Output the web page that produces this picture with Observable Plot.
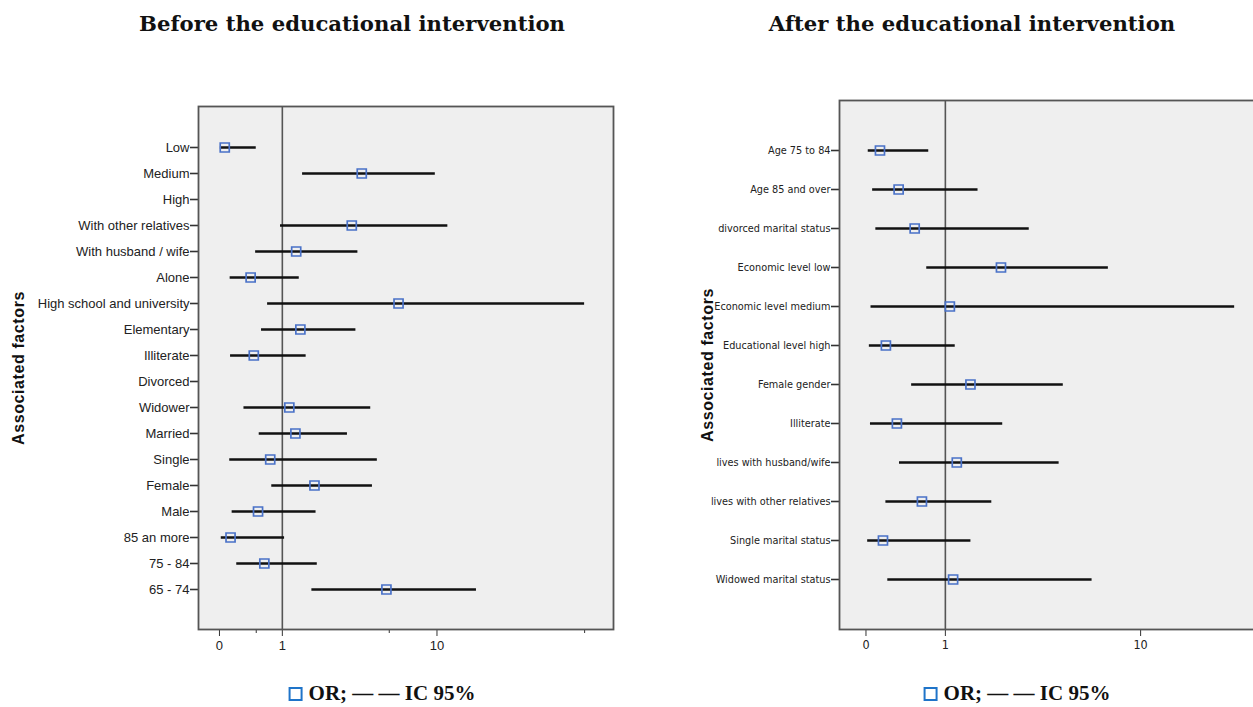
<!DOCTYPE html>
<html><head><meta charset="utf-8">
<script src="https://cdn.jsdelivr.net/npm/d3@7"></script>
<script src="https://cdn.jsdelivr.net/npm/@observablehq/plot@0.6"></script>
<style>
html,body{margin:0;padding:0;background:#fff;overflow:hidden;width:1253px;height:707px;}
#wrap{position:relative;width:1253px;height:707px;overflow:hidden;}
.panel{position:absolute;top:0;}
.title{position:absolute;top:9px;font-family:"DejaVu Serif",serif;font-weight:bold;font-size:21.2px;white-space:nowrap;transform:translateX(-50%);color:#111;line-height:30px;}
.legend{position:absolute;top:680px;font-family:"Liberation Serif",serif;font-weight:bold;font-size:21px;white-space:nowrap;transform:translateX(-50%);color:#111;line-height:26px;}
.box{display:inline-block;width:10px;height:10px;border:2.5px solid #1f74c9;margin-right:6px;vertical-align:-1px;}
svg.narrow text{font-stretch:condensed;}
</style>
</head><body><div id="wrap"></div>
<script>
// ---- data: before the educational intervention ----
const beforeFactors = ["Low","Medium","High","With other relatives","With husband / wife","Alone","High school and university","Elementary","Illiterate","Divorced","Widower","Married","Single","Female","Male","85 an more","75 - 84","65 - 74"];
const beforeOR   = [0.06, 3.8, null, 3.3, 1.33, 0.41, 6.2, 1.44, 0.46, null, 1.16, 1.31, 0.75, 1.85, 0.53, 0.13, 0.64, 5.3];
const beforeLow  = [0.01, 1.5, null, 0.96, 0.49, 0.125, 0.70, 0.59, 0.13, null, 0.31, 0.55, 0.12, 0.78, 0.15, 0.02, 0.21, 1.77];
const beforeHigh = [0.5, 9.8, null, 11.4, 3.6, 1.41, 55, 3.5, 1.6, null, 4.3, 3.1, 4.7, 4.4, 1.9, 1.05, 1.94, 16];

// ---- data: after the educational intervention ----
const afterFactors = ["Age 75 to 84","Age 85 and over","divorced marital status","Economic level low","Economic level medium","Educational level high","Female gender","Illiterate","lives with husband/wife","lives with other relatives","Single marital status","Widowed marital status"];
const afterOR   = [0.13, 0.33, 0.53, 2.25, 1.08, 0.19, 1.49, 0.31, 1.21, 0.63, 0.16, 1.14];
const afterLow  = [0.02, 0.06, 0.09, 0.70, 0.045, 0.03, 0.49, 0.04, 0.34, 0.19, 0.015, 0.21];
const afterHigh = [0.73, 1.66, 3.16, 7.3, 24, 1.18, 4.6, 2.3, 4.4, 2.0, 1.5, 6.2];

// ---- axis ----
const xDomain = [-0.26, 76];
const majorTicks = [0, 1, 10];
const minorTicks = [0.5, 5.5, 55];
const yTitle = "Associated factors";
const titles = ["Before the educational intervention", "After the educational intervention"];

function panel(o) {
  const rows = o.factors.map((f, i) => ({f, or: o.or[i], lo: o.lo[i], hi: o.hi[i]})).filter(d => d.or != null);
  const marks = [
    Plot.frame({fill: "#efefef"}),
    Plot.ruleX([1], {stroke: "#555", strokeWidth: 1.6}),
    Plot.ruleY(rows, {y: "f", x1: "lo", x2: "hi", stroke: "#111", strokeWidth: 2.6}),
    Plot.dot(rows, {x: "or", y: "f", symbol: "square", r: 5.1, stroke: "#4a72c8", strokeWidth: 1.7, fill: "none"}),
    Plot.axisY({tickSize: 8, tickPadding: 1, label: null, stroke: "#333", strokeWidth: 1.6, fill: "#222"}),
    Plot.axisX(majorTicks, {tickSize: 7, tickPadding: 4, label: null, tickFormat: d => String(d), stroke: "#333", fill: "#222", fontSize: o.xFontSize}),
    Plot.text([yTitle], {frameAnchor: "left", textAnchor: "middle", dx: o.titleDx, rotate: -90, fontWeight: "bold", fontSize: 16, fontFamily: "Liberation Sans, Arial, sans-serif", fill: "#111"}),
    Plot.frame({stroke: "#555", strokeWidth: 1.8})
  ];
  if (o.minor) marks.splice(6, 0, Plot.axisX(minorTicks, {tickSize: 4, label: null, tickFormat: () => "", stroke: "#333"}));
  const svg = Plot.plot({
    width: o.width, height: 670,
    marginLeft: o.ml, marginRight: o.mr, marginTop: o.mt, marginBottom: 41,
    style: {fontFamily: o.font, fontSize: o.fontSize, background: "transparent", overflow: "visible"},
    x: {type: "symlog", constant: 1, domain: xDomain, label: null},
    y: {type: "point", domain: o.factors, padding: o.padding, label: null},
    marks
  });
  svg.querySelectorAll('[aria-label="text"] text').forEach(t => t.style.letterSpacing = "0.6px");
  return svg;
}

const wrap = document.getElementById("wrap");
const left = panel({factors: beforeFactors, or: beforeOR, lo: beforeLow, hi: beforeHigh,
  width: 640, ml: 198, mr: 27, mt: 106, padding: 1.5, minor: true, titleDx: -180,
  font: "Liberation Sans, Arial, sans-serif", fontSize: "13px", xFontSize: 13});
left.classList.add("panel"); left.style.left = "0px";
wrap.appendChild(left);

const right = panel({factors: afterFactors, or: afterOR, lo: afterLow, hi: afterHigh,
  width: 741, ml: 199, mr: 18, mt: 100, padding: 1.15, minor: false, titleDx: -132,
  font: "DejaVu Sans, sans-serif", fontSize: "10.8px", xFontSize: 12.5});
right.classList.add("panel", "narrow"); right.style.left = "640px";
wrap.appendChild(right);

[[352, titles[0]], [972, titles[1]]].forEach(([x, t]) => {
  const d = document.createElement("div"); d.className = "title"; d.style.left = x + "px"; d.textContent = t; wrap.appendChild(d);
});
[382, 1017].forEach(x => {
  const d = document.createElement("div"); d.className = "legend"; d.style.left = x + "px";
  d.innerHTML = '<span class="box"></span>OR; \u2014 \u2014 IC 95%'; wrap.appendChild(d);
});
</script>
</body></html>
